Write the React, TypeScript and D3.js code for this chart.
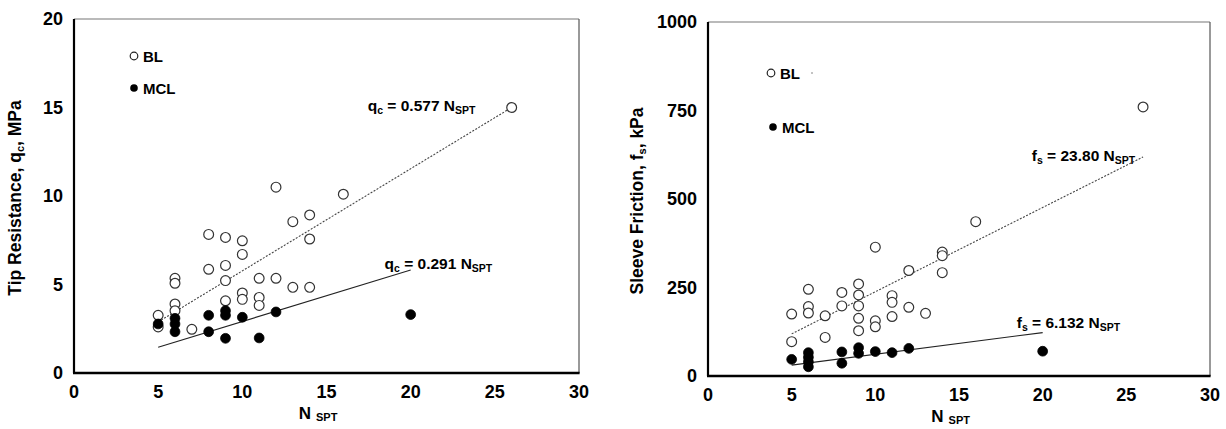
import React from "react";
import * as d3 from "d3";

// ---------- data ----------
const xTicks = [0, 5, 10, 15, 20, 25, 30];
const qcTicks = [0, 5, 10, 15, 20];
const fsTicks = [0, 250, 500, 750, 1000];

// Tip resistance (MPa) vs N_SPT
const blQcN = [5, 5, 6, 6, 6, 6, 7, 8, 8, 9, 9, 9, 9, 10, 10, 10, 10, 11, 11, 11, 12, 12, 13, 13, 14, 14, 14, 16, 26];
const blQc = [3.26, 2.6, 5.35, 5.07, 3.9, 3.52, 2.47, 7.83, 5.86, 7.66, 6.08, 5.22, 4.08, 7.47, 6.7, 4.52, 4.16, 5.35, 4.27, 3.82, 10.5, 5.35, 8.55, 4.84, 8.93, 7.57, 4.84, 10.1, 15.0];
const mclQcN = [5, 6, 6, 6, 8, 8, 9, 9, 9, 10, 11, 12, 20];
const mclQc = [2.77, 3.09, 2.77, 2.33, 3.26, 2.33, 3.52, 3.26, 1.96, 3.15, 1.98, 3.45, 3.3];

// Sleeve friction (kPa) vs N_SPT
const blFsN = [5, 5, 6, 6, 6, 7, 7, 8, 8, 9, 9, 9, 9, 9, 10, 10, 10, 11, 11, 11, 12, 12, 13, 14, 14, 14, 16, 26];
const blFs = [175, 97, 245, 196, 178, 170, 109, 236, 198, 260, 229, 198, 163, 128, 364, 156, 139, 227, 208, 168, 298, 194, 177, 350, 340, 292, 436, 760];
const mclFsN = [5, 6, 6, 6, 6, 8, 8, 9, 9, 10, 11, 12, 20];
const mclFs = [47, 66, 53, 40, 26, 68, 36, 80, 64, 69, 66, 78, 70];

// regression slopes and fitted N ranges
const slopeQcBL = 0.577;
const slopeQcMCL = 0.291;
const slopeFsBL = 23.8;
const slopeFsMCL = 6.132;
const fitRangeBL = [5, 26];
const fitRangeMCL = [5, 20];

const FONT = "'Liberation Sans', Arial, sans-serif";

type PanelProps = {
  x0: number; x1: number; yTop: number; yBot: number;
  yMax: number; yTicks: number[];
  blN: number[]; blV: number[]; mclN: number[]; mclV: number[];
  slopeBL: number; slopeMCL: number;
  sym: string; unit: string; title: string;
  eqBL: [number, number, string]; eqMCL: [number, number, string];
  legend: { ox: number; oy: number; fx: number; fy: number; stray?: boolean };
  titleX: number;
};

function Equation({ x, y, sym, sub, val }: { x: number; y: number; sym: string; sub: string; val: string }) {
  return (
    <text x={x} y={y} fontFamily={FONT} fontWeight="bold" fontSize={15.5} fill="#000">
      {sym}
      <tspan fontSize={10.5} dy={3}>{sub}</tspan>
      <tspan dy={-3}>{` = ${val} N`}</tspan>
      <tspan fontSize={10.5} dy={3}>SPT</tspan>
    </text>
  );
}

function Panel(p: PanelProps) {
  const x = d3.scaleLinear().domain([0, 30]).range([p.x0, p.x1]);
  const y = d3.scaleLinear().domain([0, p.yMax]).range([p.yBot, p.yTop]);
  const line = d3.line<number>().x((n) => x(n)).y((n) => y(n * p.slopeBL));
  const lineM = d3.line<number>().x((n) => x(n)).y((n) => y(n * p.slopeMCL));
  const r = 4.9;
  const sub = p.sym === "q" ? "c" : "s";
  return (
    <g>
      {/* frame: thin top/right, thick left/bottom */}
      <line x1={p.x0} x2={p.x1} y1={p.yTop} y2={p.yTop} stroke="#777" strokeWidth={1.2} />
      <line x1={p.x1} x2={p.x1} y1={p.yTop} y2={p.yBot} stroke="#555" strokeWidth={1.2} />
      <line x1={p.x0} x2={p.x0} y1={p.yTop} y2={p.yBot} stroke="#000" strokeWidth={2.2} />
      <line x1={p.x0 - 1} x2={p.x1 + 0.6} y1={p.yBot} y2={p.yBot} stroke="#000" strokeWidth={2.6} />

      {/* tick labels */}
      {p.yTicks.map((t) => (
        <text key={"y" + t} x={p.x0 - 11} y={y(t)} dy="0.36em" textAnchor="end"
          fontFamily={FONT} fontWeight="bold" fontSize={18} fill="#000">{t}</text>
      ))}
      {xTicks.map((t) => (
        <text key={"x" + t} x={x(t)} y={p.yBot + 25} textAnchor="middle"
          fontFamily={FONT} fontWeight="bold" fontSize={18} fill="#000">{t}</text>
      ))}

      {/* axis titles */}
      <text x={x(14.5)} y={p.yBot + 46} textAnchor="middle" fontFamily={FONT} fontWeight="bold" fontSize={17} fill="#000">
        N<tspan fontSize={11} dx={5} dy={2}>SPT</tspan>
      </text>
      <text transform={`translate(${p.titleX},${(p.yTop + p.yBot) / 2 + 2}) rotate(-90)`} textAnchor="middle"
        fontFamily={FONT} fontWeight="bold" fontSize={17.5} fill="#000">
        {p.title}, {p.sym}<tspan fontSize={11} dy={3}>{sub}</tspan><tspan dy={-3}>, {p.unit}</tspan>
      </text>

      {/* fit lines */}
      <path d={line(fitRangeBL) || ""} fill="none" stroke="#444" strokeWidth={1.1} strokeDasharray="2,1.5" />
      <path d={lineM(fitRangeMCL) || ""} fill="none" stroke="#222" strokeWidth={1.1} />

      {/* points */}
      {p.blN.map((n, i) => (
        <circle key={"b" + i} cx={x(n)} cy={y(p.blV[i])} r={r} fill="#fff" stroke="#333" strokeWidth={1.2} />
      ))}
      {p.mclN.map((n, i) => (
        <circle key={"m" + i} cx={x(n)} cy={y(p.mclV[i])} r={r} fill="#000" stroke="#000" strokeWidth={0.8} />
      ))}

      {/* equations */}
      <Equation x={x(p.eqBL[0])} y={y(p.eqBL[1])} sym={p.sym} sub={sub} val={p.eqBL[2]} />
      <Equation x={x(p.eqMCL[0])} y={y(p.eqMCL[1])} sym={p.sym} sub={sub} val={p.eqMCL[2]} />

      {/* legend */}
      <circle cx={p.legend.ox} cy={p.legend.oy} r={3.8} fill="#fff" stroke="#222" strokeWidth={1.2} />
      <text x={p.legend.ox + 9} y={p.legend.oy + 5.5} fontFamily={FONT} fontWeight="bold" fontSize={15} fill="#000">BL</text>
      <circle cx={p.legend.fx} cy={p.legend.fy} r={3.8} fill="#000" />
      <text x={p.legend.fx + 9} y={p.legend.fy + 5.5} fontFamily={FONT} fontWeight="bold" fontSize={15} fill="#000">MCL</text>
      {p.legend.stray && <circle cx={p.legend.ox + 41} cy={p.legend.oy} r={0.8} fill="#777" />}
    </g>
  );
}

export default function App() {
  return (
    <svg width={1226} height={429} style={{ position: "absolute", left: 0, top: 0, background: "#fff" }}>
      <rect width={1226} height={429} fill="#fff" />
      <Panel x0={74} x1={579} yTop={19} yBot={373} yMax={20} yTicks={qcTicks}
        blN={blQcN} blV={blQc} mclN={mclQcN} mclV={mclQc}
        slopeBL={slopeQcBL} slopeMCL={slopeQcMCL}
        sym="q" unit="MPa" title="Tip Resistance"
        eqBL={[17.45, 14.8, "0.577"]} eqMCL={[18.45, 5.9, "0.291"]}
        legend={{ ox: 134, oy: 56, fx: 134, fy: 88 }} titleX={21} />
      <Panel x0={708} x1={1210} yTop={22} yBot={376} yMax={1000} yTicks={fsTicks}
        blN={blFsN} blV={blFs} mclN={mclFsN} mclV={mclFs}
        slopeBL={slopeFsBL} slopeMCL={slopeFsMCL}
        sym="f" unit="kPa" title="Sleeve Friction"
        eqBL={[19.35, 608, "23.80"]} eqMCL={[18.45, 135, "6.132"]}
        legend={{ ox: 771, oy: 73, fx: 773, fy: 127, stray: true }} titleX={643} />
    </svg>
  );
}
